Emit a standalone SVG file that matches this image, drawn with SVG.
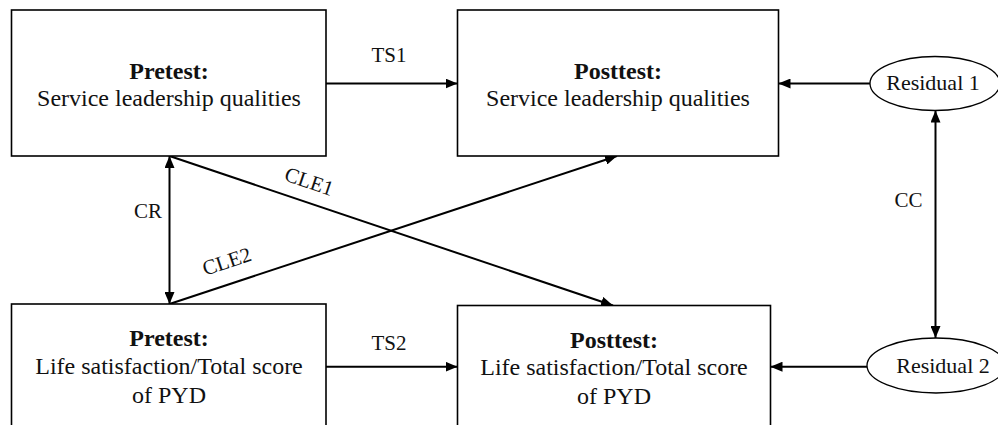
<svg xmlns="http://www.w3.org/2000/svg" width="998" height="425" viewBox="0 0 998 425">
<defs>
<marker id="ah" viewBox="0 0 12 10" refX="12" refY="5" markerWidth="12" markerHeight="10" markerUnits="userSpaceOnUse" orient="auto-start-reverse">
<path d="M0,0 L12,5 L0,10 Z" fill="#000"/>
</marker>
<style>
.box{fill:#fff;stroke:#000;stroke-width:1.6}
.ell{fill:#fff;stroke:#000;stroke-width:1.3}
text{font-family:'Liberation Serif','DejaVu Serif',serif;fill:#111;text-anchor:middle}
.t{font-size:24px}
.b{font-weight:bold}
.lbl{font-size:21px}
.res{font-size:22px}
.c{stroke:#000;stroke-width:2;fill:none}
</style>
</defs>
<rect width="998" height="425" fill="#fff"/>
<g id="connectors" font-family="Liberation Serif, serif">
<line class="c" x1="326" y1="83.5" x2="457.5" y2="83.5" marker-end="url(#ah)"/>
<line class="c" x1="326" y1="366.7" x2="457.5" y2="366.7" marker-end="url(#ah)"/>
<line class="c" x1="870" y1="83.5" x2="778.5" y2="83.5" marker-end="url(#ah)"/>
<line class="c" x1="867" y1="366.7" x2="770.5" y2="366.7" marker-end="url(#ah)"/>
<line class="c" x1="169.5" y1="156" x2="169.5" y2="304" marker-start="url(#ah)" marker-end="url(#ah)"/>
<line class="c" x1="935.5" y1="110.5" x2="935.5" y2="338" marker-start="url(#ah)" marker-end="url(#ah)"/>
<line class="c" x1="169.5" y1="156" x2="613" y2="305.5" marker-end="url(#ah)"/>
<line class="c" x1="169.5" y1="304" x2="617" y2="156" marker-end="url(#ah)"/>
<text class="lbl" x="389" y="62">TS1</text>
<text class="lbl" x="389" y="349.5">TS2</text>
<text class="lbl" x="148" y="218">CR</text>
<text class="lbl" x="908.5" y="207">CC</text>
<text class="lbl" transform="translate(307,188) rotate(18.6)">CLE1</text>
<text class="lbl" transform="translate(229,268) rotate(-18.3)">CLE2</text>
</g>
<g id="pre-slq" font-family="Liberation Serif, serif">
<rect class="box" x="11.5" y="10" width="314.5" height="146"/>
<text class="t b" x="169" y="79">Pretest:</text>
<text class="t" x="169" y="106">Service leadership qualities</text>
</g>
<g id="post-slq" font-family="Liberation Serif, serif">
<rect class="box" x="457.5" y="10" width="321" height="146"/>
<text class="t b" x="618" y="79">Posttest:</text>
<text class="t" x="618" y="106">Service leadership qualities</text>
</g>
<g id="pre-ls" font-family="Liberation Serif, serif">
<rect class="box" x="11.5" y="304" width="314.5" height="140"/>
<text class="t b" x="169" y="346">Pretest:</text>
<text class="t" x="169" y="373.5">Life satisfaction/Total score</text>
<text class="t" x="169" y="402.5">of PYD</text>
</g>
<g id="post-ls" font-family="Liberation Serif, serif">
<rect class="box" x="457.5" y="305.5" width="313" height="140"/>
<text class="t b" x="614" y="347.5">Posttest:</text>
<text class="t" x="614" y="375">Life satisfaction/Total score</text>
<text class="t" x="614" y="404">of PYD</text>
</g>
<g id="residual1" font-family="Liberation Serif, serif">
<ellipse class="ell" cx="935" cy="83.5" rx="65" ry="27"/>
<text class="res" x="933" y="90">Residual 1</text>
</g>
<g id="residual2" font-family="Liberation Serif, serif">
<ellipse class="ell" cx="936" cy="365.5" rx="69" ry="27.5"/>
<text class="res" x="943" y="373">Residual 2</text>
</g>
</svg>
